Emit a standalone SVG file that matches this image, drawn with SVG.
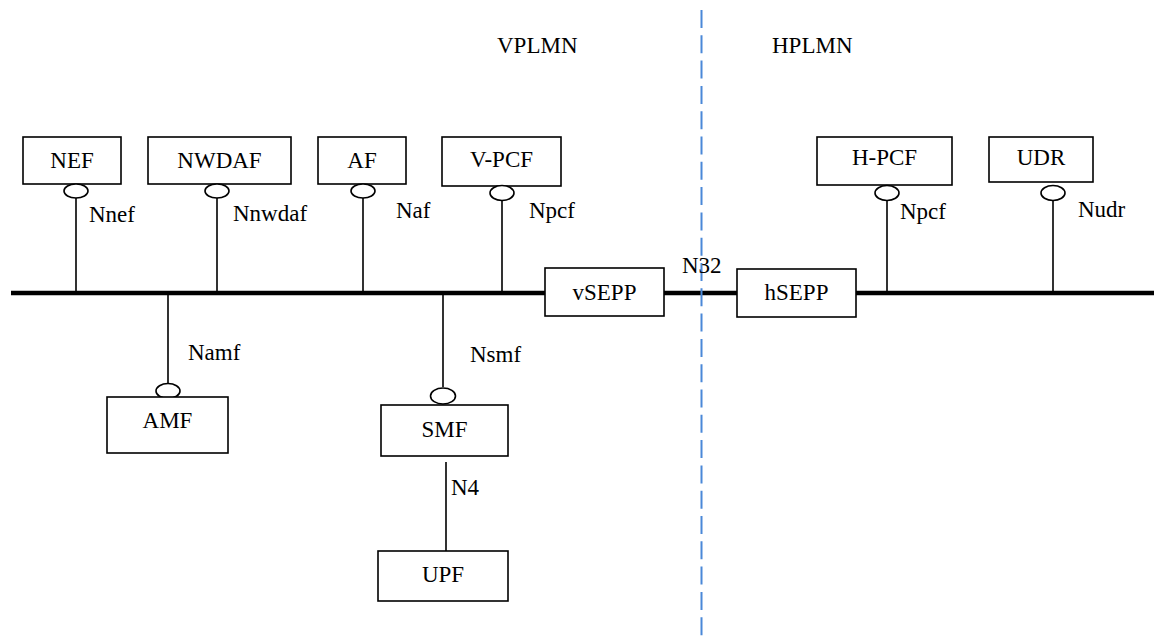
<svg xmlns="http://www.w3.org/2000/svg" width="1154" height="637" viewBox="0 0 1154 637">
<style>
.box{fill:#fff;stroke:#000;stroke-width:1.6}
.ball{fill:#fff;stroke:#000;stroke-width:1.6}
.ln{stroke:#000;stroke-width:1.6;fill:none}
.bus{stroke:#000;stroke-width:4.5;fill:none}
.dash{stroke:#4a88d8;stroke-width:2;stroke-dasharray:18 7.3;fill:none}
.c{text-anchor:middle}
</style>
<rect width="1154" height="637" fill="#fff"/>
<g id="connectors">
<path class="bus" d="M11 293H545M664 293H737M856 293H1154"/>
<path class="ln" d="M76 198V291M217 198V291M363 198V291M502 200V291M887 200V291M1053 200V291"/>
<path class="ln" d="M168 295V384M443 295V387M446 462V551"/>
<line class="dash" x1="701.5" y1="10" x2="701.5" y2="637"/>
</g>
<g font-family="Liberation Serif, Times New Roman, DejaVu Serif, serif" font-size="23" fill="#000">
<g id="labels">
<text x="497" y="53">VPLMN</text>
<text x="772" y="53">HPLMN</text>
<text x="89" y="222">Nnef</text>
<text x="233" y="221">Nnwdaf</text>
<text x="396" y="218">Naf</text>
<text x="529" y="218">Npcf</text>
<text x="682" y="273">N32</text>
<text x="900" y="219">Npcf</text>
<text x="1078" y="217">Nudr</text>
<text x="188" y="360">Namf</text>
<text x="470" y="362">Nsmf</text>
<text x="451" y="495">N4</text>
</g>
<g id="NEF"><rect class="box" x="23" y="137" width="98" height="47"/><ellipse class="ball" cx="76" cy="191" rx="12" ry="7"/><text class="c" x="72" y="168">NEF</text></g>
<g id="NWDAF"><rect class="box" x="148" y="137" width="143" height="47"/><ellipse class="ball" cx="217" cy="191" rx="12" ry="7"/><text class="c" x="219.5" y="168">NWDAF</text></g>
<g id="AF"><rect class="box" x="318" y="137" width="88" height="47"/><ellipse class="ball" cx="363" cy="191" rx="12" ry="7"/><text class="c" x="362" y="168">AF</text></g>
<g id="V-PCF"><rect class="box" x="442" y="137" width="119" height="49"/><ellipse class="ball" cx="502" cy="193" rx="12" ry="7.5"/><text class="c" x="501.5" y="167">V-PCF</text></g>
<g id="H-PCF"><rect class="box" x="817" y="137" width="135" height="48"/><ellipse class="ball" cx="887" cy="193" rx="12" ry="7.5"/><text class="c" x="884.5" y="165">H-PCF</text></g>
<g id="UDR"><rect class="box" x="989" y="137" width="104" height="45"/><ellipse class="ball" cx="1053" cy="193" rx="12" ry="7.5"/><text class="c" x="1041" y="165">UDR</text></g>
<g id="vSEPP"><rect class="box" x="545" y="268" width="119" height="48"/><text class="c" x="604.5" y="300">vSEPP</text></g>
<g id="hSEPP"><rect class="box" x="737" y="269" width="119" height="48"/><text class="c" x="796.5" y="300">hSEPP</text></g>
<g id="AMF"><ellipse class="ball" cx="168" cy="391" rx="12" ry="7.5"/><rect class="box" x="107" y="397" width="121" height="56"/><text class="c" x="167.5" y="428">AMF</text></g>
<g id="SMF"><ellipse class="ball" cx="443" cy="396" rx="12.5" ry="8"/><rect class="box" x="381" y="405" width="127" height="51"/><text class="c" x="444.5" y="437">SMF</text></g>
<g id="UPF"><rect class="box" x="378" y="551" width="130" height="50"/><text class="c" x="443" y="582">UPF</text></g>
</g>
</svg>
